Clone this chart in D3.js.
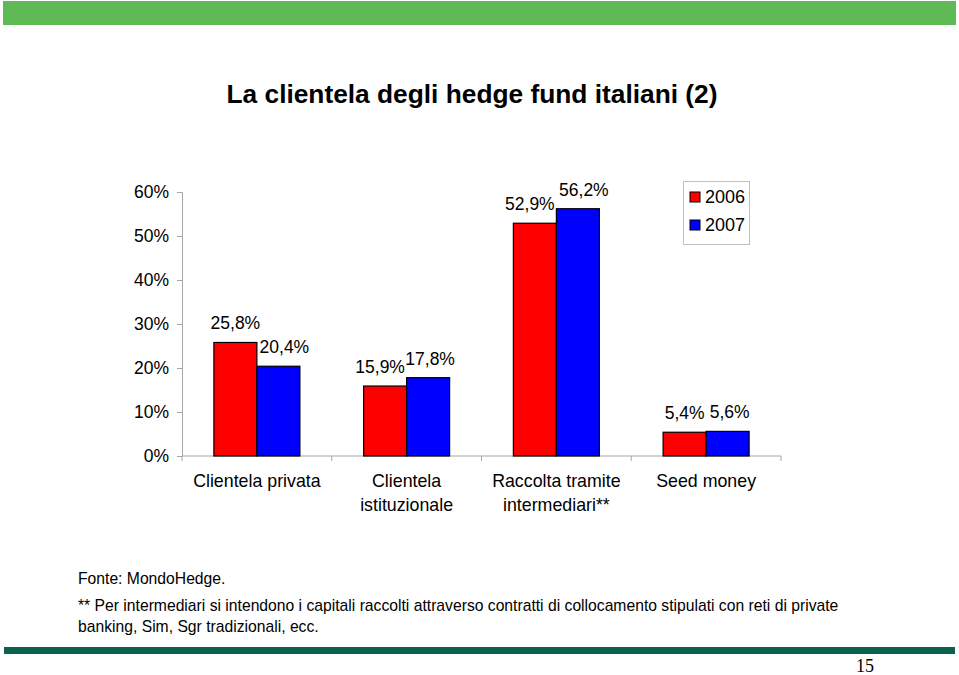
<!DOCTYPE html>
<html>
<head>
<meta charset="utf-8">
<script src="https://cdnjs.cloudflare.com/ajax/libs/d3/7.8.5/d3.min.js"></script>
<style>
	body { margin: 0; background: #fff; }
	svg text { font-family: "Liberation Sans", Arial, sans-serif; }
</style>
</head>
<body>
<script>
	var categories = [["Clientela privata"], ["Clientela", "istituzionale"], ["Raccolta tramite", "intermediari**"], ["Seed money"]];
	var years = ["2006", "2007"];
	var values2006 = [25.8, 15.9, 52.9, 5.4];
	var values2007 = [20.4, 17.8, 56.2, 5.6];
	var yTicks = [0, 10, 20, 30, 40, 50, 60];
	var colors = ["#ff0000", "#0000ff"];

	var svg = d3.select("body").append("svg")
		.attr("width", 959).attr("height", 675);

	// bande
	svg.append("rect").attr("x", 3).attr("y", 1).attr("width", 953).attr("height", 24).attr("fill", "#5fba55");
	svg.append("rect").attr("x", 4).attr("y", 647).attr("width", 951).attr("height", 7).attr("fill", "#0a6350");

	svg.append("text").attr("x", 472).attr("y", 103).attr("text-anchor", "middle")
		.style("font-size", "26.3px").style("font-weight", "bold").text("La clientela degli hedge fund italiani (2)");

	var x = d3.scaleBand().domain(d3.range(categories.length)).range([182, 781]);
	var y = d3.scaleLinear().domain([0, 60]).range([456, 192]);
	var xs = d3.scaleBand().domain(years).range([0, 86]);

	var yAxis = d3.axisLeft(y).tickValues(yTicks).tickFormat(function(d){ return d + "%"; }).tickSize(5).tickPadding(8);
	var gy = svg.append("g").attr("transform", "translate(182,0)").call(yAxis);
	gy.select(".domain").attr("stroke", "#a6a6a6");
	gy.selectAll(".tick line").attr("stroke", "#a6a6a6");
	gy.selectAll(".tick text").style("font-size", "17.5px").attr("fill", "#000");

	var gx = svg.append("g");
	gx.append("line").attr("x1", 182).attr("x2", 781).attr("y1", y(0)).attr("y2", y(0)).attr("stroke", "#a6a6a6");
	gx.selectAll(".ct").data(d3.range(categories.length + 1)).enter().append("line")
		.attr("x1", function(d){ return 182 + d * x.bandwidth(); })
		.attr("x2", function(d){ return 182 + d * x.bandwidth(); })
		.attr("y1", y(0)).attr("y2", y(0) + 5).attr("stroke", "#a6a6a6");

	var data = [];
	categories.forEach(function(c, i){
		data.push({ i: i, s: 0, v: values2006[i] });
		data.push({ i: i, s: 1, v: values2007[i] });
	});

	var gap = (x.bandwidth() - 86) / 2;
	function bx(d){ return x(d.i) + gap + xs(years[d.s]); }

	svg.selectAll(".bar").data(data).enter().append("rect")
		.attr("x", bx)
		.attr("y", function(d){ return y(d.v); })
		.attr("width", xs.bandwidth())
		.attr("height", function(d){ return y(0) - y(d.v); })
		.attr("fill", function(d){ return colors[d.s]; })
		.attr("stroke", "#000").attr("stroke-width", 1.2);

	var labelDx = [[0, 6], [-5, 2], [-5, 6], [0, 2]];
	svg.selectAll(".lbl").data(data).enter().append("text")
		.attr("x", function(d){ return bx(d) + xs.bandwidth() / 2 + labelDx[d.i][d.s]; })
		.attr("y", function(d){ return y(d.v) - 13; })
		.attr("text-anchor", "middle").style("font-size", "17.5px")
		.text(function(d){ return d.v.toFixed(1).replace(".", ",") + "%"; });

	categories.forEach(function(c, i){
		var t = svg.append("text").attr("x", x(i) + x.bandwidth() / 2).attr("y", 487)
			.attr("text-anchor", "middle").style("font-size", "17.8px");
		c.forEach(function(line, k){
			t.append("tspan").attr("x", x(i) + x.bandwidth() / 2).attr("dy", k ? 24 : 0).text(line);
		});
	});

	// legenda
	var lg = svg.append("g");
	lg.append("rect").attr("x", 683.5).attr("y", 181.5).attr("width", 66).attr("height", 63)
		.attr("fill", "#fff").attr("stroke", "#c0c0c0");
	years.forEach(function(yr, k){
		lg.append("rect").attr("x", 690).attr("y", 192 + k * 28).attr("width", 10).attr("height", 10)
			.attr("fill", colors[k]).attr("stroke", "#000");
		lg.append("text").attr("x", 705).attr("y", 203 + k * 28).style("font-size", "18px").text(yr);
	});

	svg.append("text").attr("x", 78).attr("y", 584).style("font-size", "15.7px").text("Fonte: MondoHedge.");
	svg.append("text").attr("x", 78).attr("y", 611).style("font-size", "15.7px")
		.text("** Per intermediari si intendono i capitali raccolti attraverso contratti di collocamento stipulati con reti di private");
	svg.append("text").attr("x", 78).attr("y", 632).style("font-size", "15.7px").text("banking, Sim, Sgr tradizionali, ecc.");

	svg.append("text").attr("x", 874).attr("y", 672).attr("text-anchor", "end")
		.style("font-family", "'Liberation Serif', 'Times New Roman', serif").style("font-size", "18px").text("15");
</script>
</body>
</html>
